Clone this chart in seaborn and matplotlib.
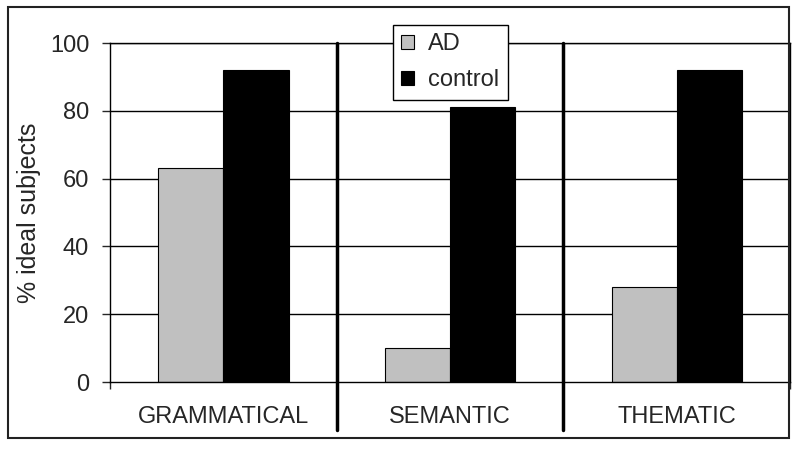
import numpy as np
import pandas as pd
import matplotlib
matplotlib.use('Agg')
import matplotlib.pyplot as plt
import seaborn as sns
from matplotlib.patches import Rectangle

# data
categories = ['GRAMMATICAL', 'SEMANTIC', 'THEMATIC']
ad_values = [63, 10, 28]
control_values = [92, 81, 92]
groups = ['AD', 'control']

df = pd.DataFrame({
    'category': categories * 2,
    'group': ['AD'] * 3 + ['control'] * 3,
    'value': ad_values + control_values,
})

sns.set_style('white')
plt.rcParams['font.family'] = ['Liberation Sans', 'DejaVu Sans']

fig = plt.figure(figsize=(8, 4.49), dpi=100)
ax = fig.add_axes([0.1375, 0.1492, 0.85, 0.755])

sns.barplot(data=df, x='category', y='value', hue='group', order=categories,
            hue_order=groups, palette={'AD': '#c0c0c0', 'control': '#000000'},
            width=0.575, gap=0, edgecolor='black', linewidth=0.8,
            saturation=1, ax=ax)

ax.set_xlim(-0.5, 2.5)
ax.set_ylim(0, 100)
ax.set_yticks([0, 20, 40, 60, 80, 100])
ax.set_xlabel('')
ax.set_ylabel('% ideal subjects', fontsize=18, labelpad=6)

# horizontal grid lines
for yv in [20, 40, 60, 80, 100]:
    ax.axhline(yv, color='black', linewidth=1, zorder=0.5)

for side in ['left', 'right', 'bottom', 'top']:
    ax.spines[side].set_visible(True)
    ax.spines[side].set_color('black')
    ax.spines[side].set_linewidth(1)

ax.tick_params(axis='y', direction='out', length=6, width=1, pad=9,
               labelsize=17, left=True)
ax.tick_params(axis='x', length=0, pad=17, labelsize=17)
ax.set_xticks([-0.5, 0.5, 1.5, 2.5], minor=True)
ax.tick_params(axis='x', which='minor', direction='out', length=5, width=1,
               bottom=True)

# separators between the groups
for xv in [0.5, 1.5]:
    ax.axvline(xv, ymin=-0.142, ymax=1, color='black', linewidth=2.5,
               clip_on=False, zorder=3)

leg = ax.legend(loc='upper left', bbox_to_anchor=(0.416, 1.053),
                fontsize=17, frameon=True, fancybox=False, edgecolor='black',
                framealpha=1, handlelength=0.55, handleheight=0.55,
                handletextpad=0.6, labelspacing=0.6, borderpad=0.35,
                borderaxespad=0)
leg.get_frame().set_linewidth(1)
leg.set_zorder(5)

# outer frame round the whole chart
fig.patches.append(Rectangle((0.01, 0.0245), 0.976, 0.96, transform=fig.transFigure,
                             fill=False, edgecolor='#222222', linewidth=1.5))

fig.savefig('out.png', dpi=100)
